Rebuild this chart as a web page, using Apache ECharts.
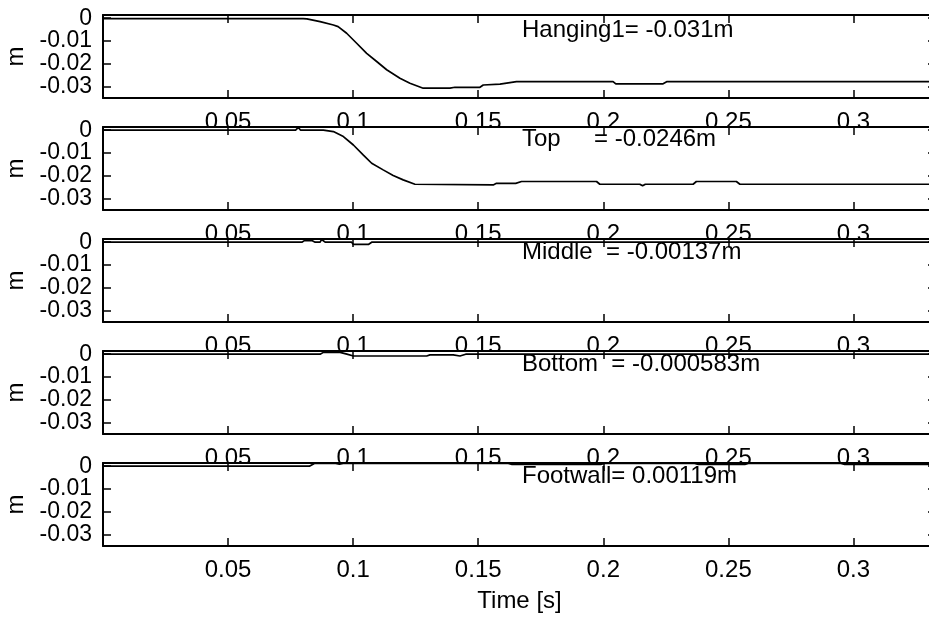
<!DOCTYPE html>
<html><head><meta charset="utf-8">
<script src="https://cdn.jsdelivr.net/npm/echarts@6/dist/echarts.min.js"></script>
<style>html,body{margin:0;padding:0;background:#fff}#c{width:929px;height:620px}</style>
</head><body><div id="c"></div>
<script>
// ---- data ----
const xTicks = [0.05, 0.1, 0.15, 0.2, 0.25, 0.3];
const yTicks = [0, -0.01, -0.02, -0.03];
const panelLabels = ['Hanging1= -0.031m', 'Top     = -0.0246m', 'Middle  = -0.00137m', 'Bottom  = -0.000583m', 'Footwall= 0.00119m'];
const xName = 'Time [s]';
const yName = 'm';

const hangingT = [0, 0.08, 0.0815, 0.0868, 0.0921, 0.094, 0.0974, 0.1014, 0.1054, 0.1094, 0.1134, 0.1187, 0.1227, 0.128, 0.1387, 0.1407, 0.1507, 0.152, 0.1587, 0.1653, 0.2039, 0.205, 0.2239, 0.2255, 0.333];
const hangingV = [-0.0002, -0.0002, -0.0003, -0.0015, -0.003, -0.0037, -0.0066, -0.011, -0.0154, -0.019, -0.0226, -0.0263, -0.0285, -0.0307, -0.0307, -0.0303, -0.0303, -0.0293, -0.0289, -0.0278, -0.0278, -0.0288, -0.0288, -0.0278, -0.0278];

const topT = [0, 0.077, 0.0781, 0.079, 0.0881, 0.0921, 0.0961, 0.1001, 0.1041, 0.1074, 0.112, 0.116, 0.12, 0.1247, 0.156, 0.1573, 0.165, 0.1673, 0.1973, 0.1986, 0.2146, 0.2157, 0.2168, 0.2359, 0.2372, 0.2532, 0.2546, 0.333];
const topV = [0, 0, 0.0012, 0, 0, -0.0006, -0.0028, -0.0065, -0.0109, -0.0145, -0.0174, -0.0199, -0.0218, -0.0237, -0.024, -0.0233, -0.0233, -0.0225, -0.0225, -0.0237, -0.0237, -0.0244, -0.0237, -0.0237, -0.0225, -0.0225, -0.0237, -0.0237];

const middleT = [0, 0.0795, 0.0805, 0.0835, 0.0848, 0.0868, 0.0874, 0.0888, 0.0994, 0.1001, 0.1061, 0.1074, 0.333];
const middleV = [0, 0, 0.0007, 0.0007, 0, 0, 0.0012, 0, 0, -0.001, -0.001, 0, 0];

const bottomT = [0, 0.0868, 0.0881, 0.0948, 0.0975, 0.1001, 0.109, 0.1097, 0.1107, 0.1155, 0.116, 0.1168, 0.1294, 0.1307, 0.14, 0.1427, 0.145, 0.333];
const bottomV = [0, 0, 0.0008, 0.0008, 0, -0.0008, -0.0008, -0.0004, -0.0008, -0.0008, -0.0005, -0.0008, -0.0008, -0.0003, -0.0003, -0.0008, 0, 0];

const footwallT = [0, 0.0825, 0.0845, 0.093, 0.0945, 0.096, 0.162, 0.1635, 0.199, 0.2005, 0.2365, 0.238, 0.2566, 0.258, 0.295, 0.2965, 0.333];
const footwallV = [0, 0, 0.0012, 0.0012, 0.0009, 0.0012, 0.0012, 0.0008, 0.0008, 0.0012, 0.0012, 0.0008, 0.0008, 0.0012, 0.0012, 0.0008, 0.0008];

const seriesT = [hangingT, topT, middleT, bottomT, footwallT];
const seriesV = [hangingV, topV, middleV, bottomV, footwallV];

// ---- layout ----
const FONT = '"Liberation Sans", Arial, Helvetica, sans-serif';
const FS = 24;
const FS_Y = 23;
const panelTops = [15, 127, 239, 351, 463];
const panelH = 83;
const labelTops = [18.2, 127.5, 240.5, 352.5, 464.8];
const X_MIN = 0, X_MAX = 0.333, Y_MIN = -0.035, Y_MAX = 0.0014;
const fmt = v => String(+(+v).toFixed(4));

const grid = [], xAxis = [], yAxis = [], series = [], title = [];
panelTops.forEach((top, i) => {
  const zl = i + 1;
  grid.push({ left: 103, width: 833, top: top, height: panelH, show: true, backgroundColor: '#fff', borderWidth: 0,
    containLabel: false, outerBoundsMode: 'none', zlevel: zl, z: 0 });
  const lineStyle = { color: '#000', width: 2 };
  const last = i === panelTops.length - 1;
  xAxis.push({
    gridIndex: i, type: 'value', min: X_MIN, max: X_MAX, position: 'bottom', zlevel: zl, z: 3,
    axisLine: { show: true, onZero: false, lineStyle },
    axisTick: { show: true, inside: true, length: 8, customValues: xTicks, lineStyle: { color: '#000', width: 1.5 } },
    axisLabel: { show: true, customValues: xTicks, margin: 12, color: '#000', fontSize: FS, fontFamily: FONT, formatter: fmt, showMinLabel: true, showMaxLabel: true, hideOverlap: false },
    splitLine: { show: false },
    name: last ? xName : '', nameLocation: 'middle', nameGap: 43,
    nameTextStyle: { color: '#000', fontSize: FS, fontFamily: FONT }
  });
  xAxis.push({
    gridIndex: i, type: 'value', min: X_MIN, max: X_MAX, position: 'top', zlevel: zl, z: 3,
    axisLine: { show: true, onZero: false, lineStyle },
    axisTick: { show: true, inside: true, length: 8, customValues: xTicks, lineStyle: { color: '#000', width: 1.5 } },
    axisLabel: { show: false }, splitLine: { show: false }
  });
  yAxis.push({
    gridIndex: i, type: 'value', min: Y_MIN, max: Y_MAX, position: 'left', zlevel: zl, z: 3,
    axisLine: { show: true, onZero: false, lineStyle },
    axisTick: { show: true, inside: true, length: 8, customValues: yTicks, lineStyle: { color: '#000', width: 1.5 } },
    axisLabel: { show: true, customValues: yTicks, margin: 11, color: '#000', fontSize: FS_Y, fontFamily: FONT, formatter: fmt, showMinLabel: true, showMaxLabel: true, hideOverlap: false },
    splitLine: { show: false },
    name: yName, nameLocation: 'middle', nameGap: 72, nameRotate: 90,
    nameTextStyle: { color: '#000', fontSize: FS, fontFamily: FONT }
  });
  yAxis.push({
    gridIndex: i, type: 'value', min: Y_MIN, max: Y_MAX, position: 'right', zlevel: zl, z: 3,
    axisLine: { show: true, onZero: false, lineStyle },
    axisTick: { show: true, inside: true, length: 8, customValues: yTicks, lineStyle: { color: '#000', width: 1.5 } },
    axisLabel: { show: false }, splitLine: { show: false }
  });
  series.push({
    type: 'line', xAxisIndex: 2 * i, yAxisIndex: 2 * i, zlevel: zl, z: 2,
    data: seriesT[i].map((t, k) => [t, seriesV[i][k]]),
    showSymbol: false, symbol: 'none', lineStyle: { color: '#000', width: 1.7 }, silent: true
  });
  title.push({
    text: panelLabels[i], left: 522, top: labelTops[i], padding: 0, zlevel: zl, z: 4,
    textStyle: { color: '#000', fontSize: FS, fontWeight: 'normal', fontFamily: FONT }
  });
});

const chart = echarts.init(document.getElementById('c'), null, { renderer: 'canvas' });
chart.setOption({ animation: false, backgroundColor: '#fff', title, grid, xAxis, yAxis, series });
</script>
</body></html>
